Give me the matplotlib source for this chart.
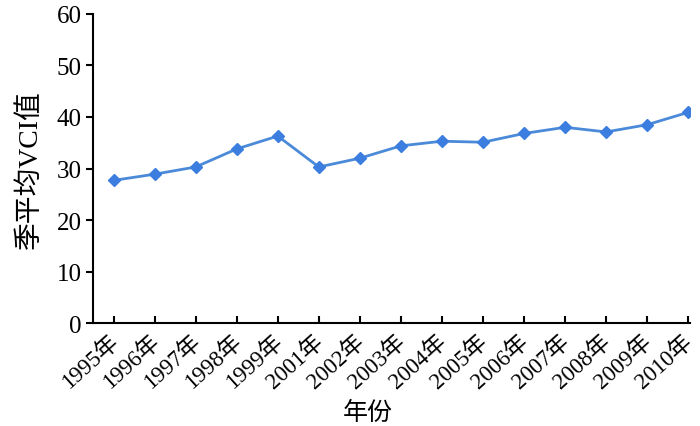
import numpy as np
import matplotlib
matplotlib.use("Agg")
from matplotlib import pyplot as plt

plt.rcParams['font.family'] = ['Liberation Serif', 'Noto Sans CJK SC']

years = ['1995年', '1996年', '1997年', '1998年', '1999年', '2001年', '2002年',
         '2003年', '2004年', '2005年', '2006年', '2007年', '2008年', '2009年', '2010年']
vci = [27.7, 28.9, 30.3, 33.8, 36.3, 30.3, 32.0, 34.4, 35.3, 35.1, 36.8, 38.0, 37.1, 38.5, 40.9]


def main():
    fig = plt.figure(figsize=(7, 4.27), dpi=100)
    ax = fig.add_axes([0.133, 0.241, 0.853, 0.724])

    x = np.arange(len(years))
    ax.plot(x, vci, color='#4a8ad8', lw=2, marker='D', ms=6,
            markerfacecolor='#3b7ee0', markeredgecolor='#3b7ee0')

    ax.set_xlim(-0.5, 14.05)
    ax.set_ylim(0, 60)
    ax.set_yticks(range(0, 61, 10))
    ax.set_xticks(x)
    ax.set_xticklabels([])
    # year labels placed by hand so the last one stays inside the figure
    for i, lab in zip(x, years):
        ax.annotate(lab, xy=(i, 0), xycoords=('data', 'axes fraction'),
                    xytext=(-4, -5), textcoords='offset points',
                    ha='right', va='top', rotation=42, rotation_mode='anchor',
                    fontsize=16.5)

    ax.spines['top'].set_visible(False)
    ax.spines['right'].set_visible(False)
    for s in ['left', 'bottom']:
        ax.spines[s].set_linewidth(1.5)
    ax.tick_params(axis='y', direction='out', length=5, width=1.5, labelsize=18, pad=3)
    ax.tick_params(axis='x', direction='in', length=5, width=1.5)

    ax.set_ylabel('季平均VCI值', fontsize=20, labelpad=10)
    ax.text(0.46, -0.29, '年份', transform=ax.transAxes, fontsize=18,
            ha='center', va='center')

    fig.savefig('out.png', dpi=100)


if __name__ == '__main__':
    main()
